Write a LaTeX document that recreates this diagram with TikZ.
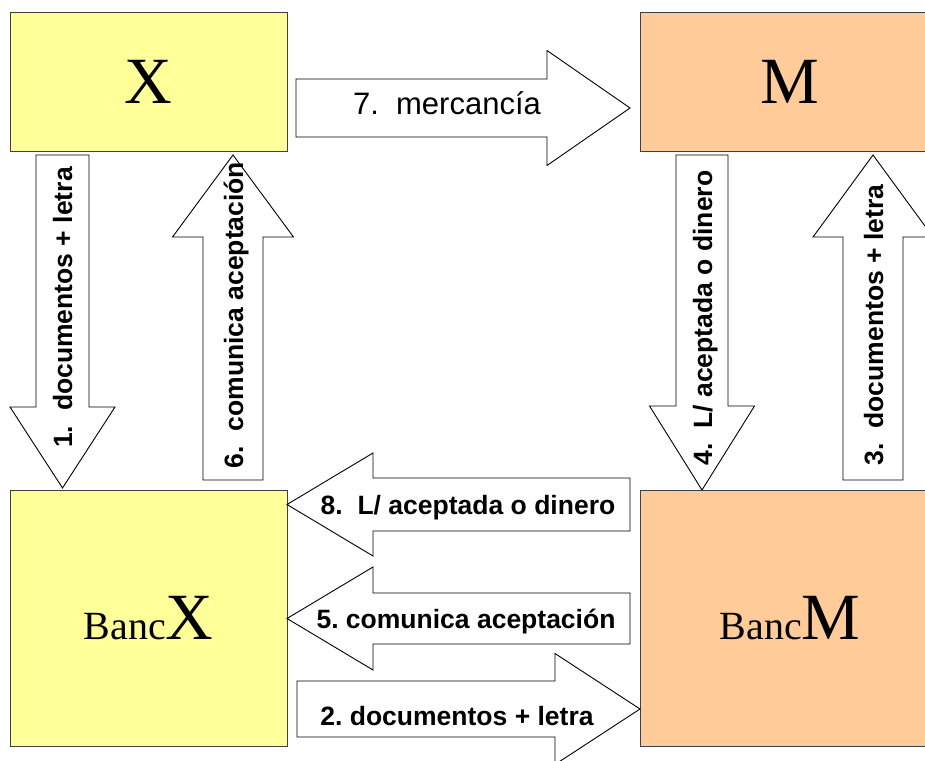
\documentclass[tikz,border=0pt]{standalone}
\usepackage{fontspec}
\setmainfont{Liberation Sans}
\newfontfamily\romanfont{Liberation Serif}
\definecolor{amarillo}{HTML}{FFFF99}
\definecolor{naranja}{HTML}{FFCC99}

\begin{document}
\begin{tikzpicture}[x=1pt,y=-1pt,
    caja/.style={draw=black!75,line width=1pt,inner sep=0pt,font=\romanfont},
    flecha/.style={draw=black,line width=0.9pt,fill=white,line join=miter},
    etiqueta/.style={anchor=base,inner sep=0pt,font=\bfseries\fontsize{26.5}{30}\selectfont}]
  \useasboundingbox (0,0) rectangle (925,760);
  \clip (0,0) rectangle (925,760);

  % X and M blocks
  \node[caja,fill=amarillo,minimum width=277pt,minimum height=138pt] (X) at (148.5,82)
    {\fontsize{66}{66}\selectfont X};
  \node[caja,fill=naranja,minimum width=300pt,minimum height=138pt] (M) at (790,82)
    {\fontsize{66}{66}\selectfont M};

  % Bank blocks
  \node[caja,fill=amarillo,minimum width=277pt,minimum height=256pt] (BX) at (148.5,618)
    {\fontsize{40}{40}\selectfont Banc\fontsize{66}{66}\selectfont X};
  \node[caja,fill=naranja,minimum width=300pt,minimum height=256pt] (BM) at (790,618)
    {\fontsize{40}{40}\selectfont Banc\fontsize{66}{66}\selectfont M};

  % Horizontal arrows: tail/base/tip/centre/shaft/head
  \foreach \xa/\xb/\xt/\yc/\sw/\hw in {296/547/630/108/29/57.5,
      297/555/640/709/28/55.5,
      630/373/287/504.5/26.5/51.5,
      630/373/287/618.5/25.5/51.5} {
    \draw[flecha] (\xa,\yc-\sw) -- (\xb,\yc-\sw) -- (\xb,\yc-\hw) -- (\xt,\yc)
      -- (\xb,\yc+\hw) -- (\xb,\yc+\sw) -- (\xa,\yc+\sw) -- cycle;
  }
  % Vertical arrows
  \foreach \xc/\ya/\yb/\yt/\sw/\hw in {62.5/155/407/488/26.5/52.5,
      702/155/406/490/26/52.5,
      233/480/237/155/30/60.5,
      873/480/237/155/30/60} {
    \draw[flecha] (\xc-\sw,\ya) -- (\xc-\sw,\yb) -- (\xc-\hw,\yb) -- (\xc,\yt)
      -- (\xc+\hw,\yb) -- (\xc+\sw,\yb) -- (\xc+\sw,\ya) -- cycle;
  }

  % Labels
  \node[etiqueta,font=\mdseries\fontsize{31}{34}\selectfont] (l7) at (447,114) {7.\ \ mercancía};
  \node[etiqueta,rotate=90] (l1) at (72,307.5) {1.\ \ documentos + letra};
  \node[etiqueta] (l2) at (457,725) {2.\ documentos + letra};
  \node[etiqueta,rotate=90] (l3) at (883,325) {3.\ \ documentos + letra};
  \node[etiqueta,rotate=90] (l4) at (712,318) {4.\ \ L/ aceptada o dinero};
  \node[etiqueta] (l5) at (466,628) {5.\ comunica aceptación};
  \node[etiqueta,rotate=90] (l6) at (243,315) {6.\ \ comunica aceptación};
  \node[etiqueta] (l8) at (468,514) {8.\ \ L/ aceptada o dinero};
\end{tikzpicture}
\end{document}
